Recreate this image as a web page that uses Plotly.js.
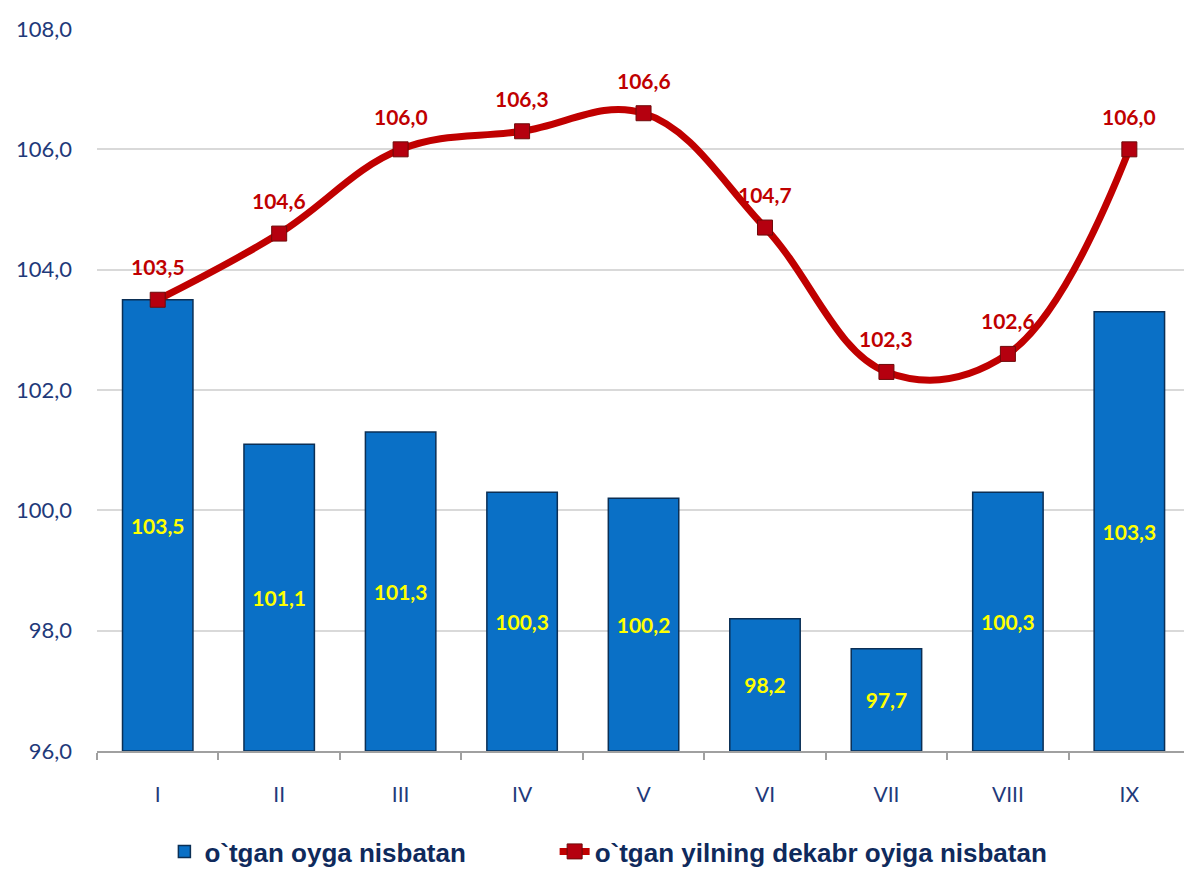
<!DOCTYPE html>
<html>
<head>
<meta charset="utf-8">
<script src="https://cdn.plot.ly/plotly-3.0.1.min.js"></script>
<style>html,body{margin:0;padding:0;background:#fff;}#chart{width:1184px;height:875px;}</style>
</head>
<body>
<div id="chart"></div>
<script>
const months = ["I","II","III","IV","V","VI","VII","VIII","IX"];
const prevMonth = [103.5, 101.1, 101.3, 100.3, 100.2, 98.2, 97.7, 100.3, 103.3];
const prevDec = [103.5, 104.6, 106.0, 106.3, 106.6, 104.7, 102.3, 102.6, 106.0];
const yTicks = [96, 98, 100, 102, 104, 106, 108];
const baseLevel = 96;

const fmt = v => v.toFixed(1).replace('.', ',');

const barTrace = {
  type: 'bar',
  name: 'o`tgan oyga nisbatan',
  legend: 'legend',
  x: months,
  base: baseLevel,
  y: prevMonth.map(v => v - baseLevel),
  text: prevMonth.map(fmt),
  textposition: 'inside',
  insidetextanchor: 'middle',
  textangle: 0,
  textfont: {family: 'Lato, Calibri, sans-serif', size: 21, color: '#FFFF00', weight: 'bold'},
  width: 0.58,
  marker: {color: '#0A70C6', line: {color: '#0B2F55', width: 1.5}},
  hoverinfo: 'x+text'
};

const lineTrace = {
  type: 'scatter',
  mode: 'lines+markers',
  name: 'o`tgan yilning dekabr oyiga nisbatan',
  legend: 'legend2',
  x: months,
  y: prevDec,
  line: {color: '#C00000', width: 7, shape: 'spline', smoothing: 1.1},
  marker: {symbol: 'square', size: 15, color: '#B5000F', line: {color: '#6E0A0A', width: 1}},
  cliponaxis: false
};

const lineLabels = months.map((m, i) => ({
  x: m,
  y: prevDec[i],
  text: fmt(prevDec[i]),
  showarrow: false,
  yshift: 33,
  font: {family: 'Lato, Calibri, sans-serif', size: 21, color: '#C00000', weight: 'bold'}
}));

const legendFont = {family: 'Liberation Sans, Arial, sans-serif', size: 26, color: '#0F2A5C', weight: 'bold'};

const layout = {
  width: 1184,
  height: 875,
  margin: {l: 97, r: 0, t: 29, b: 123},
  paper_bgcolor: '#ffffff',
  plot_bgcolor: '#ffffff',
  separators: ',.',
  showlegend: true,
  legend: {
    orientation: 'h',
    x: 0.062, xanchor: 'left',
    y: -0.106, yanchor: 'top',
    font: legendFont
  },
  legend2: {
    orientation: 'h',
    x: 0.421, xanchor: 'left',
    y: -0.106, yanchor: 'top',
    font: legendFont
  },
  annotations: lineLabels,
  xaxis: {
    type: 'category',
    range: [-0.5, 8.45],
    showgrid: false,
    showline: true,
    linecolor: '#A0A0A0',
    linewidth: 2,
    ticks: 'outside',
    tickson: 'boundaries',
    ticklen: 7,
    tickcolor: '#A0A0A0',
    tickwidth: 2,
    ticklabelstandoff: 24,
    tickfont: {family: 'Lato, Calibri, sans-serif', size: 21, color: '#1F3A7A'},
    fixedrange: true
  },
  yaxis: {
    range: [96, 108],
    tickvals: yTicks,
    tickformat: '.1f',
    showgrid: true,
    gridcolor: '#D9D9D9',
    gridwidth: 2,
    zeroline: false,
    showline: false,
    ticks: '',
    ticklabelstandoff: 24,
    tickfont: {family: 'Lato, Calibri, sans-serif', size: 22, color: '#1F3A7A'},
    fixedrange: true
  },
  bargap: 0.42
};

Plotly.newPlot('chart', [barTrace, lineTrace], layout, {displayModeBar: false, staticPlot: true});
</script>
</body>
</html>
